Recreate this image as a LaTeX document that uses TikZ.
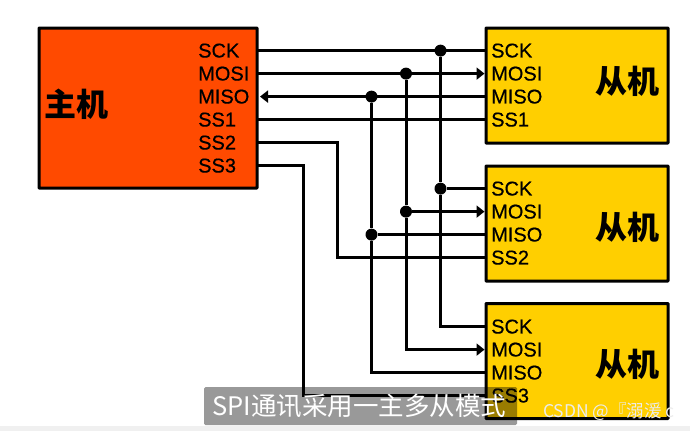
\documentclass[tikz,border=0pt]{standalone}
\usepackage{fontspec}
\setmainfont{Liberation Sans}
\newfontfamily\cjk{Noto Sans CJK SC}
\newfontfamily\portfont[FakeBold=0.5]{Liberation Sans}
\usepackage{xcolor}
\usetikzlibrary{arrows.meta,positioning,calc}
\definecolor{hostred}{RGB}{255,74,0}
\definecolor{slaveyellow}{RGB}{255,207,0}
\begin{document}
\begin{tikzpicture}[x=1pt,y=-1pt,
  box/.style={draw=black, line width=3pt, rounded corners=0.6pt, anchor=north west, inner sep=0pt, outer sep=0pt, fill=#1},
  box/.default=white,
  port/.style={font=\portfont\fontsize{20}{20}\selectfont, inner sep=0pt, anchor=west},
  title/.style={font=\cjk\fontsize{32}{32}\selectfont\bfseries, inner sep=0pt},
  wire/.style={line width=3pt},
  arr/.style={wire, -{Triangle[length=8pt,width=12pt]}},
  dot/.style={circle, fill=black, inner sep=0pt, minimum size=12pt}]
\useasboundingbox (0,0) rectangle (690,431);
\fill[white] (0,0) rectangle (690,431);
\fill[black!6] (0,426) rectangle (690,431);
% host
\node[box=hostred, minimum width=218pt, minimum height=160pt] (host) at (39,28) {};
\node[title] (hostname) at (76.5,104) {主机};
\node[port, at={(198,50.6)}] (hsck) {SCK};
\node[port, at={(198,73.6)}] (hmosi) {MOSI};
\node[port, at={(198,96.6)}] (hmiso) {MISO};
\node[port, at={(198,119.6)}] (hsa) {SS1};
\node[port, at={(198,142.6)}] (hsb) {SS2};
\node[port, at={(198,165.6)}] (hsc) {SS3};
% slaves
\node[box=slaveyellow, minimum width=182pt, minimum height=115pt] (sa) at (486,28) {};
\node[box=slaveyellow, minimum width=182pt, minimum height=115pt] (sb) at (486,166) {};
\node[box=slaveyellow, minimum width=182pt, minimum height=115pt] (sc) at (486,303.5) {};
\node[title] (saname) at (627.5,81) {从机};
\node[title] (sbname) at (627.5,227) {从机};
\node[title] (scname) at (627.5,364) {从机};
\foreach \s/\y/\last in {a/50.6/SS1, b/188.6/SS2, c/326.6/SS3} {
  \node[port, at={(491,\y)}] (s\s sck) {SCK};
  \node[port, at={(491,\y+23)}] (s\s mosi) {MOSI};
  \node[port, at={(491,\y+46)}] (s\s miso) {MISO};
  \node[port, at={(491,\y+69)}] (s\s ss) {\last};
}
% joints
\node[dot] (dsck) at (440.5,50.6) {};
\node[dot] (dmosi) at (406,73.6) {};
\node[dot] (dmiso) at (371.5,96.6) {};
\node[dot] (dsckb) at (440.5,188.6) {};
\node[dot] (dmosib) at (406,211.6) {};
\node[dot] (dmisob) at (371.5,234.6) {};
\coordinate (turnb) at (337.5,200);
\coordinate (turnc) at (303,280);
% bus lines
\draw[wire] (host.east |- hsck.west) -- (sa.west |- sasck.west);
\draw[arr, shorten >=1.5pt] (host.east |- hmosi.west) -- (sa.west |- samosi.west);
\draw[arr] (sa.west |- samiso.west) -- ([xshift=3pt]host.east |- hmiso.west);
\draw[wire] (host.east |- hsa.west) -- (sa.west |- sass.west);
\draw[wire] (dsck) -- (dsckb);
\draw[wire] (dmosi) -- (dmosib);
\draw[wire] (dmiso) -- (dmisob);
\draw[wire] (dsckb) -- (sb.west |- dsckb);
\draw[arr, shorten >=1.5pt] (dmosib) -- (sb.west |- dmosib);
\draw[wire] (dmisob) -- (sb.west |- dmisob);
\draw[wire] (dsckb) |- (sc.west |- scsck.west);
\draw[arr, shorten >=1.5pt] (dmosib) |- (sc.west |- scmosi.west);
\draw[wire] (dmisob) |- (sc.west |- scmiso.west);
\draw[wire] (host.east |- hsb.west) -| (turnb) |- (sb.west |- sbss.west);
\draw[wire] (host.east |- hsc.west) -| (turnc) |- (sc.west |- scss.west);
% caption
\fill[black, opacity=0.4, rounded corners=1.5pt] (204,387) rectangle (517,425);
\node[font=\cjk\fontsize{25.5}{25.5}\selectfont, text=white, inner sep=0pt, anchor=west] (caption) at (212,406) {SPI通讯采用一主多从模式};
\node[font=\cjk\fontsize{17.5}{17.5}\selectfont, text=white!85!gray, inner sep=0pt, anchor=west] (mark) at (543,412) {CSDN @『溺湲 c};
\end{tikzpicture}
\end{document}
